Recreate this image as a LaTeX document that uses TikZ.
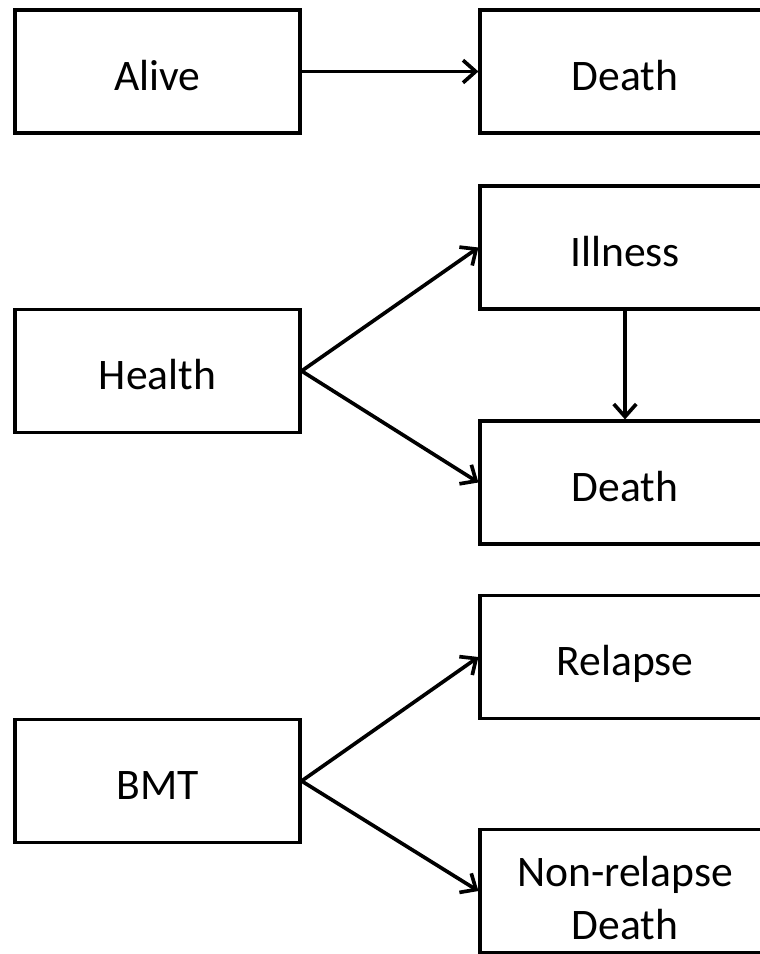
\documentclass[tikz,border=0pt]{standalone}
\usepackage{fontspec}
\setmainfont{Carlito}
\usetikzlibrary{arrows.meta}

\tikzset{
  state/.style={draw, line width=2.2pt, rectangle, minimum width=7.125cm,
    minimum height=3.075cm, align=center, inner sep=0pt,
    text height=26.4pt, text depth=0pt,
    font=\fontsize{31}{37.5}\selectfont},
  target/.style={state, minimum width=7.25cm},
  trans/.style={->, line width=2.6pt}
}

\begin{document}
\begin{tikzpicture}[x=0.025cm,y=-0.025cm,>={Straight Barb[length=9pt,width=16pt,line width=2.6pt]}]
		\useasboundingbox (0,0) rectangle (760,954);
		\clip (0,0) rectangle (760,954);
		
		%--- Alive / death model ---
		\node[state]  (alive)  at (157.5,71.5) {Alive};
		\node[target] (death1) at (625,71.5)   {Death};
		\draw[trans] (alive.east) -- (death1.west);
		
		%--- Illness-death model ---
		\node[state]  (health)  at (157.5,371) {Health};
		\node[target] (illness) at (625,247.5) {Illness};
		\node[target] (death2)  at (625,482.5) {Death};
		\draw[trans] (health.east) -- (illness.west);
		\draw[trans] (health.east) -- (death2.west);
		\draw[trans] (illness.south) -- (death2.north);
		
		%--- Competing risks after BMT ---
		\node[state]  (bmt)     at (157.5,781) {BMT};
		\node[target] (relapse) at (625,657)   {Relapse};
		\node[target, text height=69pt] (nrm) at (625,891) {Non-relapse\\Death};
		\draw[trans] (bmt.east) -- (relapse.west);
		\draw[trans] (bmt.east) -- (nrm.west);
		
	\end{tikzpicture}
\end{document}
